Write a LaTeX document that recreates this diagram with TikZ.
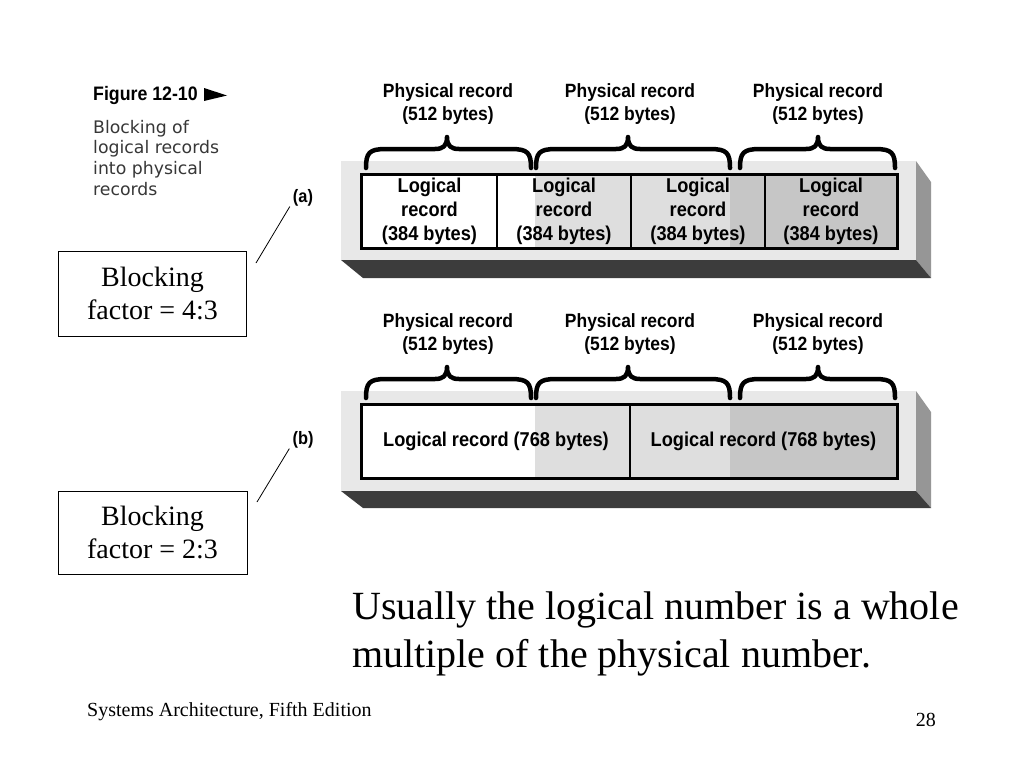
\documentclass[tikz,border=0pt]{standalone}
\usepackage{fontspec}
\setmainfont{Liberation Serif}
\newfontfamily\condbf[FakeStretch=0.91,UprightFont={* Bold}]{Liberation Sans}
\newfontfamily\verd{DejaVu Sans}
\definecolor{facelight}{RGB}{232,232,232}
\definecolor{faceside}{RGB}{150,150,150}
\definecolor{facebottom}{RGB}{60,60,60}
\definecolor{shadeA}{RGB}{222,222,222}
\definecolor{shadeB}{RGB}{198,198,198}
\definecolor{captext}{RGB}{55,55,55}
\newcommand\physbrace[4]{% xa, xm, xb, base y
  \draw[brc] (#1,#4) .. controls (#1,{#4-15}) and ({#1+3},{#4-19}) .. ({#1+20},{#4-19})
    -- ({#2-12},{#4-19}) .. controls ({#2-4},{#4-19}) and (#2,{#4-22}) .. (#2,{#4-31})
    .. controls (#2,{#4-22}) and ({#2+4},{#4-19}) .. ({#2+12},{#4-19})
    -- ({#3-20},{#4-19}) .. controls ({#3-3},{#4-19}) and (#3,{#4-15}) .. (#3,#4);}
\begin{document}
\begin{tikzpicture}[x=1pt,y=-1pt,
  brc/.style={line width=4.5pt,line cap=round,line join=round},
  phys/.style={font=\condbf\fontsize{19.2}{23}\selectfont,align=center,inner sep=0pt},
  cell/.style={draw,line width=1.6pt,minimum height=73pt,inner sep=0pt,align=center,
    font=\condbf\fontsize{20}{24}\selectfont},
  tag/.style={font=\condbf\fontsize{18}{20}\selectfont,inner sep=0pt},
  factor/.style={draw,line width=0.8pt,align=center,inner sep=0pt,
    font=\fontsize{28}{33}\selectfont},
  leader/.style={line width=0.8pt},
  serif/.style={inner sep=0pt,font=\fontsize{40}{48}\selectfont},
  foot/.style={inner sep=0pt,font=\fontsize{20}{24}\selectfont}]
\useasboundingbox (0,0) rectangle (1024,768);
\fill[white] (0,0) rectangle (1024,768);

% caption
\node[anchor=base west,inner sep=0pt,font=\condbf\fontsize{19.5}{20}\selectfont] (fig) at (93,100) {Figure 12-10};
\fill (204,88) -- (227,95.5) -- (204,101) -- cycle;
\node[anchor=north west,inner sep=0pt,align=left,text=captext,
  font=\verd\fontsize{17.3}{20.6}\selectfont] (cap) at (93,120)
  {Blocking of\\logical records\\into physical\\records};

% ---------- bar (a) ----------
\fill[facelight] (341,161) rectangle (916,260);
\fill[faceside] (916,161) -- (931,182) -- (931,278) -- (916,260) -- cycle;
\fill[facebottom] (341,260) -- (916,260) -- (931,278) -- (363,278) -- cycle;
\fill[white] (362,175) rectangle (535,248);
\fill[shadeA] (535,175) rectangle (730,248);
\fill[shadeB] (730,175) rectangle (897,248);
\node[cell,minimum width=135pt] (la1) at (429.5,211.5) {Logical\\record\\(384 bytes)};
\node[cell,minimum width=134pt] (la2) at (564,211.5) {Logical\\record\\(384 bytes)};
\node[cell,minimum width=134pt] (la3) at (698,211.5) {Logical\\record\\(384 bytes)};
\node[cell,minimum width=132pt] (la4) at (831,211.5) {Logical\\record\\(384 bytes)};
\draw[line width=2pt] (la1.north west) rectangle (la4.south east);
\physbrace{366}{447}{531}{168}
\physbrace{536}{628}{730}{168}
\physbrace{740}{818}{895}{168}
\node[phys] (pa1) at (448,104) {Physical record\\(512 bytes)};
\node[phys] (pa2) at (630,104) {Physical record\\(512 bytes)};
\node[phys] (pa3) at (818,104) {Physical record\\(512 bytes)};

% ---------- bar (b) ----------
\fill[facelight] (341,391) rectangle (916,491);
\fill[faceside] (916,391) -- (931,412) -- (931,508) -- (916,491) -- cycle;
\fill[facebottom] (341,491) -- (916,491) -- (931,508) -- (363,508) -- cycle;
\fill[white] (362,405) rectangle (535,478);
\fill[shadeA] (535,405) rectangle (730,478);
\fill[shadeB] (730,405) rectangle (897,478);
\node[cell,minimum width=268pt] (lb1) at (496,441.5) {Logical record (768 bytes)};
\node[cell,minimum width=267pt] (lb2) at (763.5,441.5) {Logical record (768 bytes)};
\draw[line width=2pt] (lb1.north west) rectangle (lb2.south east);
\physbrace{366}{447}{531}{398}
\physbrace{536}{628}{730}{398}
\physbrace{740}{818}{895}{398}
\node[phys] (pb1) at (448,334) {Physical record\\(512 bytes)};
\node[phys] (pb2) at (630,334) {Physical record\\(512 bytes)};
\node[phys] (pb3) at (818,334) {Physical record\\(512 bytes)};

% ---------- labels and blocking factors ----------
\node[tag] (ta) at (303,198) {(a)};
\node[tag] (tb) at (303,440) {(b)};
\node[factor,minimum width=188pt,minimum height=85pt] (bfa) at (152.5,293.5) {Blocking\\factor = 4:3};
\node[factor,minimum width=189pt,minimum height=83pt] (bfb) at (152.5,532.5) {Blocking\\factor = 2:3};
\coordinate (ea) at (256,263);
\coordinate (eb) at (257,502);
\draw[leader] (ta.south west) ++(-3,0) coordinate (sa) (sa) -- (ea);
\draw[leader] (tb.south west) ++(-3,0) coordinate (sb) (sb) -- (eb);

% ---------- note and footer ----------
\node[serif,anchor=base west] (n1) at (352,619) {Usually the logical number is a whole};
\node[serif,anchor=base west] (n2) at (352,667) {multiple of the physical number.};
\node[foot,anchor=base west] (ft) at (87,716) {Systems Architecture, Fifth Edition};
\node[foot,anchor=base east] (pg) at (936,726) {28};
\end{tikzpicture}
\end{document}
